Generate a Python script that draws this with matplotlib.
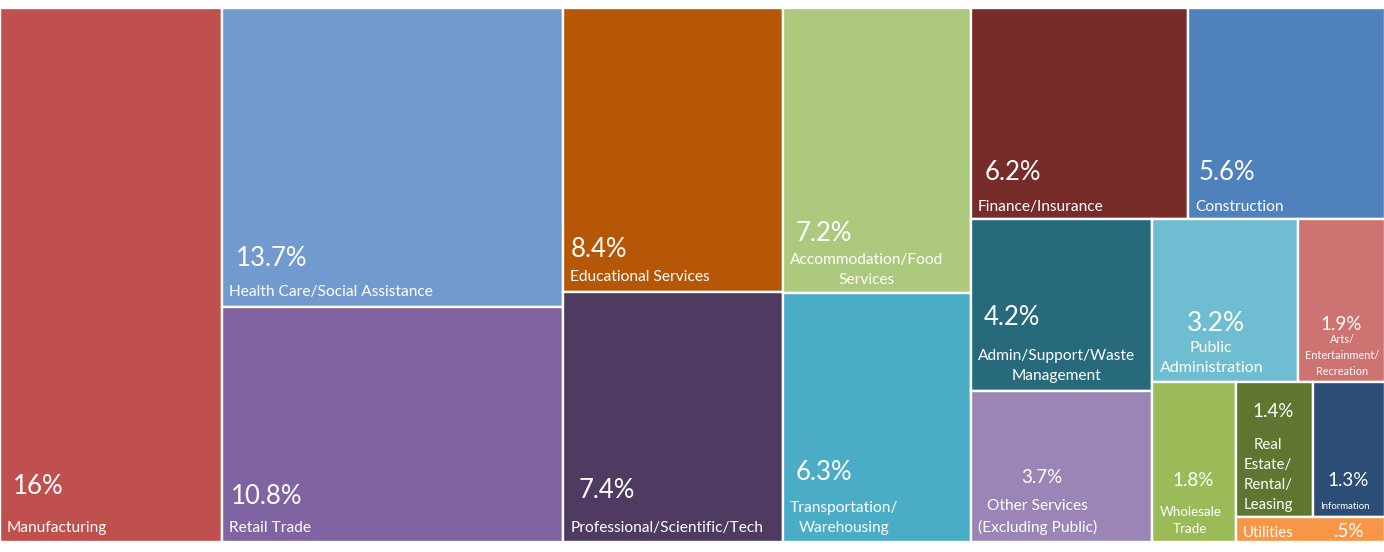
import matplotlib
matplotlib.use("Agg")
import matplotlib.pyplot as plt
from matplotlib.patches import Rectangle

# ---- data ---------------------------------------------------------------
industries = [
    "Manufacturing",
    "Health Care/Social Assistance",
    "Retail Trade",
    "Educational Services",
    "Professional/Scientific/Tech",
    "Accommodation/Food\nServices",
    "Transportation/\nWarehousing",
    "Finance/Insurance",
    "Construction",
    "Admin/Support/Waste\nManagement",
    "Other Services\n(Excluding Public)",
    "Public\nAdministration",
    "Arts/\nEntertainment/\nRecreation",
    "Wholesale\nTrade",
    "Real\nEstate/\nRental/\nLeasing",
    "Information",
    "Utilities",
]
shares = [16.0, 13.7, 10.8, 8.4, 7.4, 7.2, 6.3, 6.2, 5.6,
          4.2, 3.7, 3.2, 1.9, 1.8, 1.4, 1.3, 0.5]
pct_labels = ["16%", "13.7%", "10.8%", "8.4%", "7.4%", "7.2%", "6.3%", "6.2%",
              "5.6%", "4.2%", "3.7%", "3.2%", "1.9%", "1.8%", "1.4%", "1.3%", ".5%"]

# how many tiles go in each strip (Excel-style strip treemap)
strips = [1, 2, 2, 2, 2, 2, 2, 1, 2, 1]

colors = ["#C0504D", "#729ACE", "#8064A2", "#B65708", "#4F3B62", "#ADC97E",
          "#4BACC6", "#772C2A", "#4F81BD", "#276A7C", "#9A85B6", "#6FBDD1",
          "#CD7371", "#9BBB59", "#5F7530", "#2C4D75", "#F79646"]

# label styling per tile: pct size, name size, pct dx, pct up, name up (px)
label_style = [
    (18.5, 11.2, 13, 48, 10),
    (18.5, 11.2, 13, 41, 11),
    (18.5, 11.2, 8, 38, 10),
    (18.5, 11.2, 8, 35, 11),
    (18.5, 11.2, 15, 44, 10),
    (18.5, 11.2, 13, 52, 9),
    (18.5, 11.2, 13, 62, 10),
    (18.5, 11.2, 14, 39, 8),
    (18.5, 11.2, 10, 39, 8),
    (18.5, 11.2, 13, 66, 11),
    (13.5, 11.2, 51, 59, 10),
    (19, 11.5, 34, 51, 10),
    (13.5, 7.8, 22, 52, 7),
    (13.5, 9.6, 20, 56, 9),
    (13.5, 10.8, 16, 100, 8),
    (13.5, 6.9, 14, 31, 8),
    (13.5, 10.8, 0, 5, 5),
]

plt.rcParams["font.family"] = ["Lato", "DejaVu Sans"]

W, H = 1384, 552
X0, Y0, X1, Y1 = 0, 8, 1385, 542


def layout(vals, groups, x, y, w, h):
    rects = []
    total = sum(vals)
    i = 0
    for n in groups:
        chunk = vals[i:i + n]
        csum = sum(chunk)
        share = csum / total
        if w >= h:
            cw = w * share
            yy = y
            for v in chunk:
                ch = h * v / csum
                rects.append((x, yy, cw, ch))
                yy += ch
            x += cw
            w -= cw
        else:
            rh = h * share
            xx = x
            for v in chunk:
                cw = w * v / csum
                rects.append((xx, y, cw, rh))
                xx += cw
            y += rh
            h -= rh
        total -= csum
        i += n
    return rects


fig = plt.figure(figsize=(W / 100, H / 100), dpi=100)
ax = fig.add_axes([0, 0, 1, 1])
ax.set_xlim(0, W)
ax.set_ylim(H, 0)
ax.axis("off")

rects = layout(shares, strips, X0, Y0, X1 - X0, Y1 - Y0)
last = len(rects) - 1
for k, (x, y, w, h) in enumerate(rects):
    ax.add_patch(Rectangle((x, y), w, h, facecolor=colors[k],
                           edgecolor="white", linewidth=1.7))
    pfs, nfs, pdx, pup, nup = label_style[k]
    bottom = y + h
    ax.text(x + 7, bottom - nup, industries[k], color="white", fontsize=nfs,
            ha="left", va="baseline", multialignment="center", linespacing=1.55)
    if k == last:
        ax.text(x + w - 21, bottom - pup, pct_labels[k], color="white",
                fontsize=pfs, ha="right", va="baseline")
    else:
        ax.text(x + pdx, bottom - pup, pct_labels[k], color="white",
                fontsize=pfs, ha="left", va="baseline")

fig.savefig("out.png", dpi=100, facecolor="white")
